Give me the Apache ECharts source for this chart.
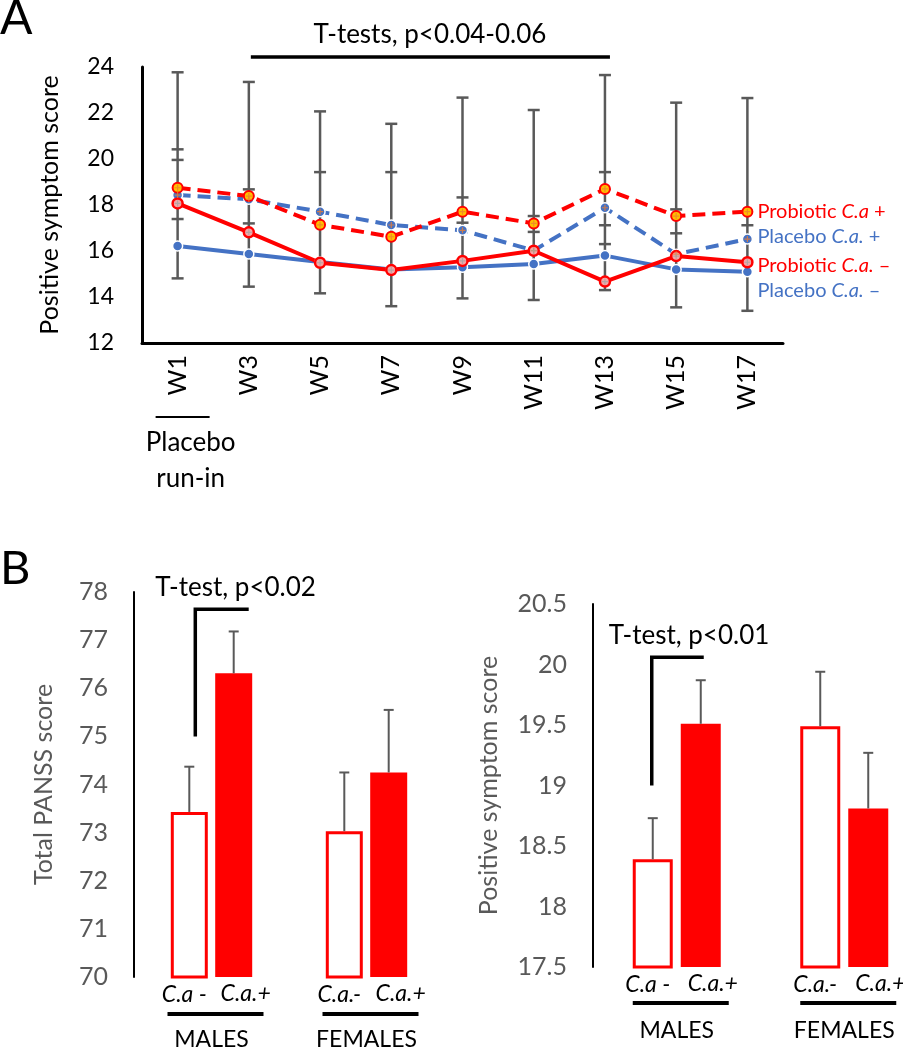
<!DOCTYPE html>
<html><head><meta charset="utf-8">
<script src="https://cdn.jsdelivr.net/npm/echarts@6/dist/echarts.min.js"></script>
<style>html,body{margin:0;padding:0;background:#fff;}#c{width:903px;height:1050px;}</style>
</head><body><div id="c"></div>
<script>
// ---------- Panel A data ----------
const weeks = ['W1','W3','W5','W7','W9','W11','W13','W15','W17'];
const probioticPos = [18.75, 18.39, 17.14, 16.62, 17.71, 17.20, 18.70, 17.52, 17.71];
const placeboPos   = [18.43, 18.25, 17.71, 17.13, 16.90, 16.02, 17.88, 15.86, 16.52];
const probioticNeg = [18.07, 16.81, 15.49, 15.17, 15.57, 16.01, 14.67, 15.78, 15.51];
const placeboNeg   = [16.22, 15.87, 15.52, 15.20, 15.29, 15.43, 15.80, 15.20, 15.10];
// error bar end points (caps) per week
const errorCaps = [
  [23.77, 20.42, 19.96, 17.39, 14.81],
  [23.35, 18.68, 17.20, 14.45],
  [22.07, 19.43, 14.16],
  [21.53, 19.43, 13.60],
  [22.67, 18.33, 17.23, 13.94],
  [22.13, 17.52, 16.83, 13.87],
  [23.65, 19.43, 17.12, 16.30, 14.30],
  [22.45, 17.81, 16.77, 13.55],
  [22.65, 17.12, 13.40]
];
const yTicksA = [12, 24, 2];
// ---------- Panel B data ----------
const groups = ['MALES', 'FEMALES'];
const negLabels = ['C.a -', 'C.a.-'];
const posLabels = ['C.a.+', 'C.a.+'];
const panssNeg = [73.43, 73.03];
const panssNegErr = [0.94, 1.22];
const panssPos = [76.31, 74.25];
const panssPosErr = [0.87, 1.30];
const positiveNeg = [18.39, 19.49];
const positiveNegErr = [0.34, 0.45];
const positivePos = [19.51, 18.81];
const positivePosErr = [0.36, 0.46];
const panssTest = {text: 'T-test, p<0.02', low: 75.0, high: 77.64};
const positiveTest = {text: 'T-test, p<0.01', low: 19.0, high: 20.06};

const FONT = 'Lato';
const RED = '#FF0000', BLUE = '#4472C4', GRAY = '#595959';
const PLUS = 'path://M4,0H6V4H10V6H6V10H4V6H0V4H4Z';

const chart = echarts.init(document.getElementById('c'), null, {renderer: 'canvas'});

function lineSeries(name, data, color, dashed, fill, border, bw, label, off) {
  return {
    type: 'line', name, data, xAxisIndex: 0, yAxisIndex: 0, z: 3,
    lineStyle: {color, width: 4, type: dashed ? [13, 7] : 'solid'},
    symbol: 'circle', symbolSize: 10,
    itemStyle: {color: fill, borderColor: border, borderWidth: bw},
    endLabel: {
      show: true, distance: 10, offset: off,
      formatter: label,
      rich: {
        n: {fontFamily: FONT, fontSize: 20, color},
        i: {fontFamily: FONT, fontSize: 20, color, fontStyle: 'italic'}
      }
    }
  };
}
function plusSeries(data, color) {
  return {type: 'scatter', data, xAxisIndex: 0, yAxisIndex: 0, z: 5, silent: true,
    symbol: PLUS, symbolSize: 6, itemStyle: {color}};
}

function barErrorSeries(gi, vals, errs, side, bw) {
  return {
    type: 'custom', xAxisIndex: gi, yAxisIndex: gi, z: 4, silent: true,
    data: vals.map((v, i) => [i, v, v + errs[i]]),
    renderItem(params, api) {
      const a = api.coord([api.value(0), api.value(1)]);
      const b = api.coord([api.value(0), api.value(2)]);
      const x = a[0] + side * bw * 0.6;
      return {type: 'group', children: [
        {type: 'line', shape: {x1: x, y1: a[1], x2: x, y2: b[1]}, style: {stroke: GRAY, lineWidth: 2}},
        {type: 'line', shape: {x1: x - 5, y1: b[1], x2: x + 5, y2: b[1]}, style: {stroke: GRAY, lineWidth: 2}}
      ]};
    }
  };
}
// style: [vertical offset from bar centre, horizontal end offset from 2nd bar centre, text offset]
function bracketSeries(gi, test, bw, st) {
  return {
    type: 'custom', xAxisIndex: gi, yAxisIndex: gi, z: 6, silent: true, clip: false,
    data: [[0, test.low, test.high]],
    renderItem(params, api) {
      const lo = api.coord([0, api.value(1)]);
      const hi = api.coord([0, api.value(2)]);
      const x1 = lo[0] - bw * 0.6 + st[0];
      const x2 = lo[0] + bw * 0.6 + st[1];
      return {type: 'group', children: [
        {type: 'polyline', shape: {points: [[x1, lo[1]], [x1, hi[1]], [x2, hi[1]]]},
          style: {stroke: '#000', lineWidth: 3.5, fill: null}},
        {type: 'text', x: x1 + st[2], y: hi[1] - 22,
          style: {text: test.text, fontFamily: FONT, fontSize: 26, fill: '#000', align: 'left', verticalAlign: 'middle'}}
      ]};
    }
  };
}
function underlineSeries(gi, base, dy) {
  return {
    type: 'custom', xAxisIndex: gi, yAxisIndex: gi, z: 6, silent: true, clip: false,
    data: groups.map((g, i) => [i, base]),
    renderItem(params, api) {
      const p = api.coord([api.value(0), api.value(1)]);
      return {type: 'line', shape: {x1: p[0] - 44, y1: p[1] + dy, x2: p[0] + 52, y2: p[1] + dy},
        style: {stroke: '#000', lineWidth: 4}};
    }
  };
}
function barPair(gi, negVals, posVals, bw) {
  const lab = (arr, dx) => ({
    show: true, position: 'bottom', distance: 5, offset: [dx, 0],
    formatter: (p) => arr[p.dataIndex],
    fontFamily: FONT, fontSize: 23, fontStyle: 'italic', color: '#000'
  });
  return [
    {type: 'bar', data: negVals, xAxisIndex: gi, yAxisIndex: gi, barWidth: bw, barGap: '20%',
      itemStyle: {color: '#fff', borderColor: RED, borderWidth: 3}, label: lab(negLabels, -5), z: 2},
    {type: 'bar', data: posVals, xAxisIndex: gi, yAxisIndex: gi, barWidth: bw, barGap: '20%',
      itemStyle: {color: RED}, label: lab(posLabels, 12), z: 2}
  ];
}

const errSeriesA = {
  type: 'custom', xAxisIndex: 0, yAxisIndex: 0, z: 1, silent: true,
  data: errorCaps.map((c, i) => [i, Math.min(...c), Math.max(...c)]),
  renderItem(params, api) {
    const caps = errorCaps[params.dataIndex];
    const i = api.value(0);
    const lo = api.coord([i, api.value(1)]);
    const hi = api.coord([i, api.value(2)]);
    const ch = [{type: 'line', shape: {x1: lo[0], y1: lo[1], x2: hi[0], y2: hi[1]}, style: {stroke: GRAY, lineWidth: 2.5}}];
    caps.forEach(v => {
      const p = api.coord([i, v]);
      ch.push({type: 'line', shape: {x1: p[0] - 6, y1: p[1], x2: p[0] + 6, y2: p[1]}, style: {stroke: GRAY, lineWidth: 2.5}});
    });
    return {type: 'group', children: ch};
  }
};
const annotA = {
  type: 'custom', xAxisIndex: 0, yAxisIndex: 0, z: 6, silent: true, clip: false,
  data: [[0, yTicksA[0], yTicksA[1]]],
  renderItem(params, api) {
    const base = api.coord([0, api.value(1)]);
    const top = api.coord([1, api.value(2)]);
    const end = api.coord([6, api.value(2)]);
    const ty = top[1] - 10;
    return {type: 'group', children: [
      {type: 'line', shape: {x1: base[0] - 22, y1: base[1] + 74, x2: base[0] + 32, y2: base[1] + 74}, style: {stroke: '#000', lineWidth: 2}},
      {type: 'text', x: base[0] + 13, y: base[1] + 100, style: {text: 'Placebo', fontFamily: FONT, fontSize: 26, fill: '#000', align: 'center', verticalAlign: 'middle'}},
      {type: 'text', x: base[0] + 13, y: base[1] + 136, style: {text: 'run-in', fontFamily: FONT, fontSize: 26, fill: '#000', align: 'center', verticalAlign: 'middle'}},
      {type: 'line', shape: {x1: top[0] + 2, y1: ty, x2: end[0] + 5, y2: ty}, style: {stroke: '#000', lineWidth: 3.5}},
      {type: 'text', x: (top[0] + end[0]) / 2 + 3, y: ty - 22, style: {text: 'T-tests, p<0.04-0.06', fontFamily: FONT, fontSize: 26, fill: '#000', align: 'center', verticalAlign: 'middle'}}
    ]};
  }
};

const valueAxisB = (gi, min, max, interval, name, gap) => ({
  type: 'value', gridIndex: gi, min, max, interval,
  axisLine: {show: true, lineStyle: {color: '#000', width: 2}},
  axisTick: {show: false}, splitLine: {show: false},
  axisLabel: {color: GRAY, fontFamily: FONT, fontSize: 25, margin: 26},
  name, nameLocation: 'middle', nameGap: gap, nameRotate: 90,
  nameTextStyle: {color: GRAY, fontFamily: FONT, fontSize: 25}
});
const catAxisB = (gi, margin) => ({
  type: 'category', gridIndex: gi, data: groups,
  axisLine: {show: false}, axisTick: {show: false},
  axisLabel: {color: '#000', fontFamily: FONT, fontSize: 23, margin}
});

chart.setOption({
  animation: false,
  backgroundColor: '#fff',
  grid: [
    {left: 142, top: 67, width: 641, height: 276, containLabel: false, outerBoundsMode: 'none'},
    {left: 134, top: 592, width: 310, height: 385, containLabel: false, outerBoundsMode: 'none'},
    {left: 593, top: 604, width: 335, height: 363, containLabel: false, outerBoundsMode: 'none'}
  ],
  xAxis: [
    {type: 'category', gridIndex: 0, data: weeks, boundaryGap: true,
      axisLine: {lineStyle: {color: '#000', width: 3}}, axisTick: {show: false},
      axisLabel: {rotate: 90, color: '#000', fontFamily: FONT, fontSize: 25, margin: 12}},
    catAxisB(1, 51),
    catAxisB(2, 52)
  ],
  yAxis: [
    {type: 'value', gridIndex: 0, min: yTicksA[0], max: yTicksA[1], interval: yTicksA[2],
      axisLine: {show: true, lineStyle: {color: '#000', width: 3}},
      axisTick: {show: false}, splitLine: {show: false},
      axisLabel: {color: '#000', fontFamily: FONT, fontSize: 23, margin: 28},
      name: 'Positive symptom score', nameLocation: 'middle', nameGap: 80, nameRotate: 90,
      nameTextStyle: {color: '#000', fontFamily: FONT, fontSize: 25}},
    valueAxisB(1, 70, 78, 1, 'Total PANSS score', 78),
    valueAxisB(2, 17.5, 20.5, 0.5, 'Positive symptom score', 92)
  ],
  graphic: [
    {type: 'text', left: 0, top: -5, style: {text: 'A', fontFamily: FONT, fontSize: 48, fill: '#000'}},
    {type: 'text', left: 0, top: 545, style: {text: 'B', fontFamily: FONT, fontSize: 47, fill: '#000'}}
  ],
  series: [
    errSeriesA,
    lineSeries('Placebo C.a. −', placeboNeg, BLUE, false, BLUE, '#fff', 1.5, '{n|Placebo }{i|C.a.}{n| –}', [0, 19]),
    lineSeries('Placebo C.a. +', placeboPos, BLUE, true, BLUE, '#fff', 1.5, '{n|Placebo }{i|C.a.}{n| +}', [0, -2]),
    lineSeries('Probiotic C.a. −', probioticNeg, RED, false, '#F4A6A6', RED, 2.5, '{n|Probiotic }{i|C.a.}{n| –}', [0, 3]),
    lineSeries('Probiotic C.a +', probioticPos, RED, true, '#FFC000', RED, 2, '{n|Probiotic }{i|C.a}{n| +}', [0, 0]),
    plusSeries(placeboPos, '#ED7D31'),
    plusSeries(probioticNeg, '#A5A5A5'),
    plusSeries(probioticPos, '#ED7D31'),
    annotA,
    ...barPair(1, panssNeg, panssPos, 37),
    barErrorSeries(1, panssNeg, panssNegErr, -1, 37),
    barErrorSeries(1, panssPos, panssPosErr, 1, 37),
    bracketSeries(1, panssTest, 37, [6, 15, -40]),
    underlineSeries(1, 70, 37),
    ...barPair(2, positiveNeg, positivePos, 40),
    barErrorSeries(2, positiveNeg, positiveNegErr, -1, 40),
    barErrorSeries(2, positivePos, positivePosErr, 1, 40),
    bracketSeries(2, positiveTest, 40, [-1, 3, -43]),
    underlineSeries(2, 17.5, 36)
  ]
});
</script></body></html>
